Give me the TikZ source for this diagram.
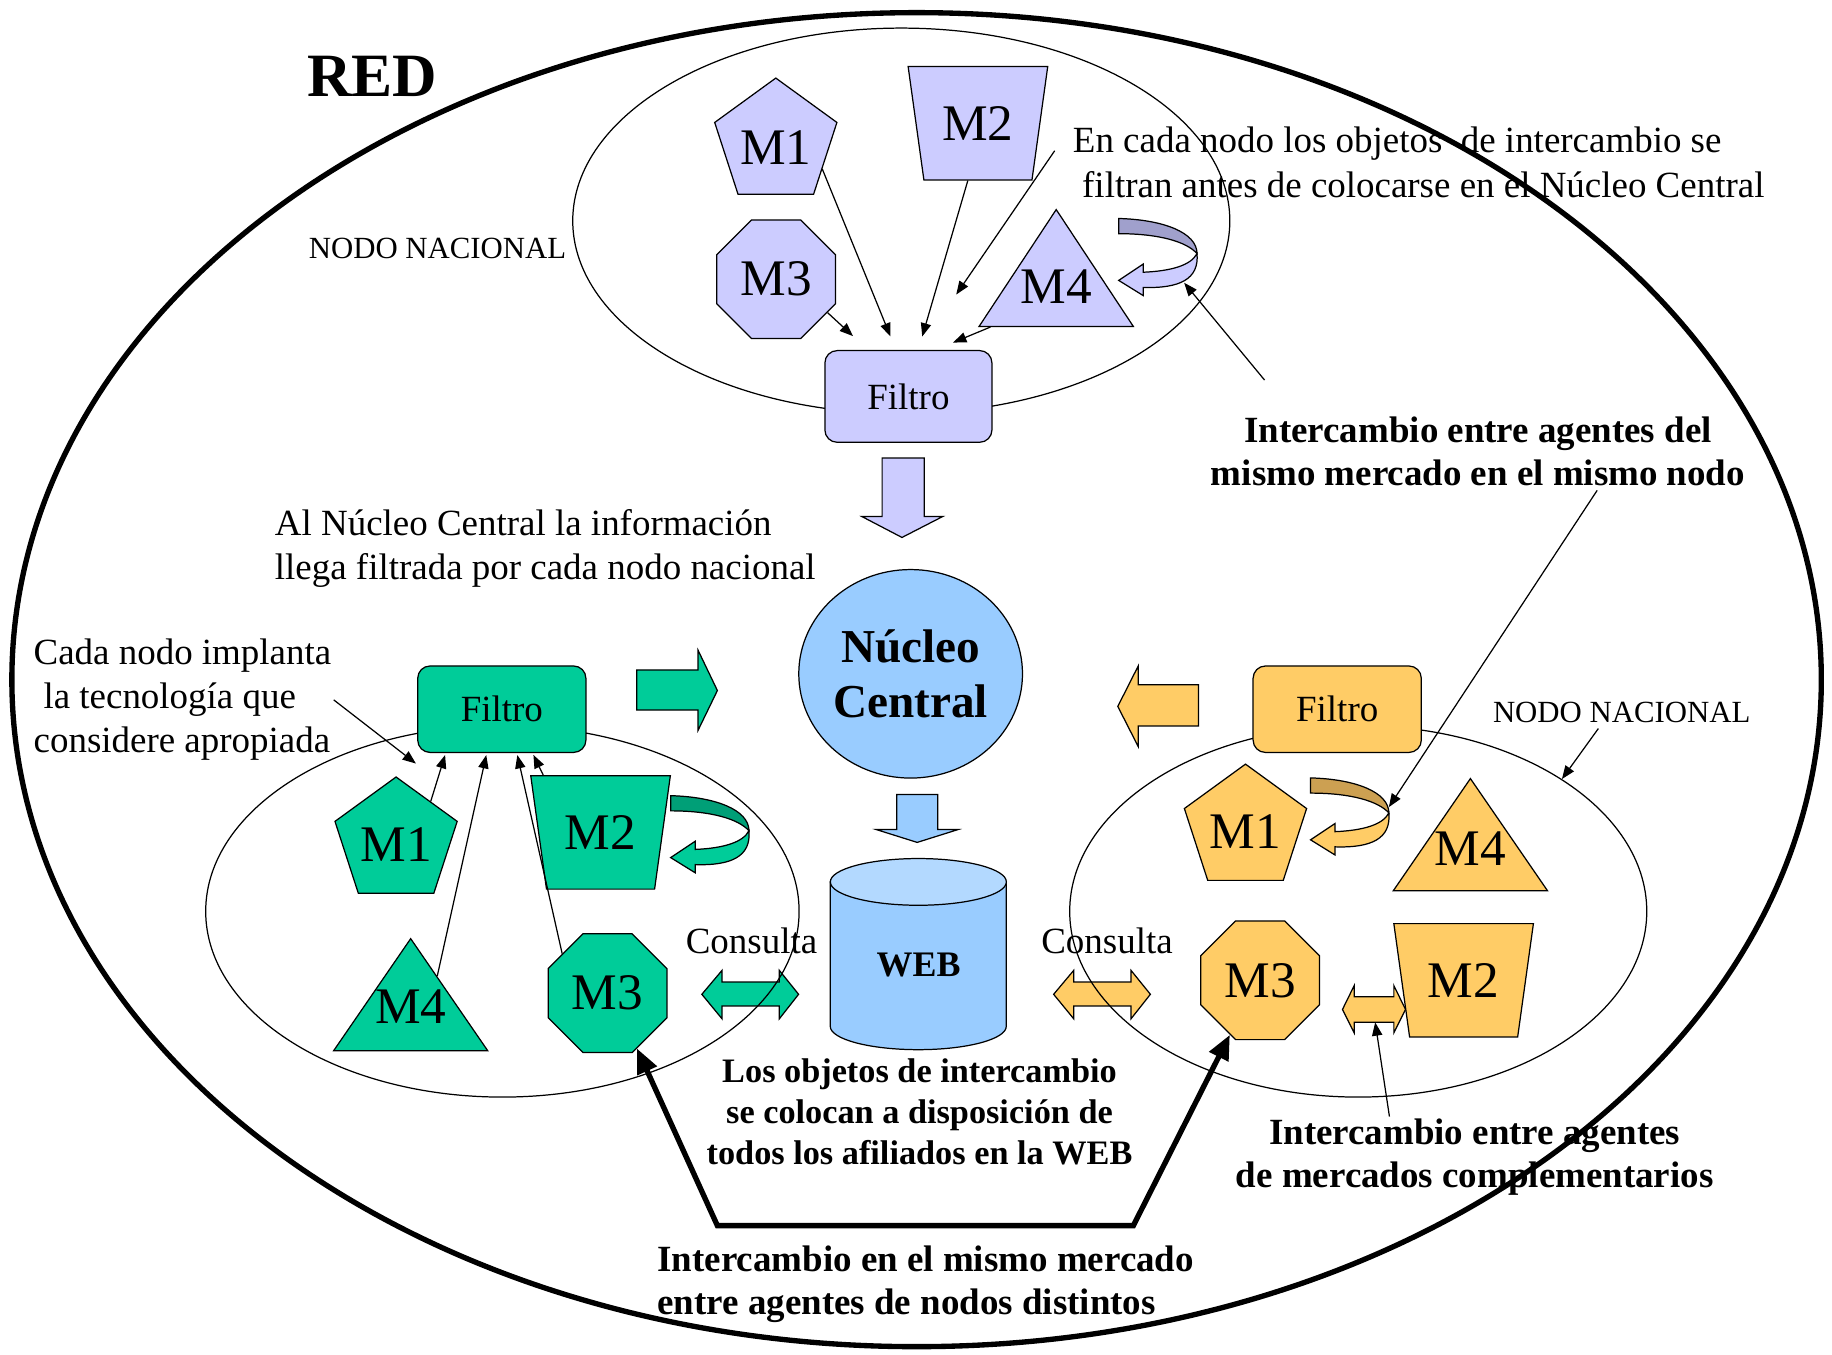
\documentclass[tikz,border=0pt]{standalone}
\usepackage{fontspec}
\setmainfont{Liberation Serif}
\usetikzlibrary{arrows.meta,shapes.geometric,calc}

\definecolor{lila}{HTML}{CCCCFF}
\definecolor{lilaosc}{HTML}{A0A0CC}
\definecolor{verde}{HTML}{00CC99}
\definecolor{verdeosc}{HTML}{009F77}
\definecolor{naranja}{HTML}{FFCC66}
\definecolor{naranjaosc}{HTML}{CCA052}
\definecolor{celeste}{HTML}{99CCFF}
\definecolor{celestecl}{HTML}{B3D9FF}

% curved arrow (ribbon): #1 name, #2 origin, #3 back colour, #4 front colour
\newcommand{\giro}[4]{%
  \begin{scope}[shift={#2}]
    \filldraw[fill=#3, line width=0.6pt] (0,0) .. controls (38,1) and (67,12) .. (67,30) .. controls (58,20) and (35,13) .. (0,13) -- cycle;
    \filldraw[fill=#4, line width=0.6pt] (67,30) .. controls (69,52) and (52,60) .. (21,59) -- (21,66) -- (0,53) -- (21,39) -- (21,46) .. controls (45,45) and (62,40) .. (67,30) -- cycle;
    \coordinate (#1-lado) at (67,25);
    \coordinate (#1-pie) at (56,55);
  \end{scope}}
% label raised inside a triangle / pentagon
\newcommand{\alto}[2]{\raisebox{#1}[0pt][0pt]{#2}}

\begin{document}
\begin{tikzpicture}[x=0.02cm, y=-0.02cm,
    forma/.style={draw, line width=0.6pt, inner sep=0pt, font=\fontsize{25}{30}\selectfont},
    pent/.style={forma, regular polygon, regular polygon sides=5, minimum size=2.2cm},
    octo/.style={forma, regular polygon, regular polygon sides=8, minimum size=2.2cm},
    trap/.style={forma, trapezium, trapezium stretches=true, trapezium angle=73, shape border rotate=180, minimum width=2.4cm, minimum height=1.94cm},
    tri/.style={forma, isosceles triangle, isosceles triangle stretches=true, shape border rotate=90, minimum width=2.64cm, minimum height=1.92cm, anchor=apex},
    filtro/.style={draw, line width=0.6pt, rounded corners=6pt, minimum width=2.88cm, minimum height=1.48cm, font=\fontsize{18}{21.5}\selectfont},
    nodo/.style={draw, line width=0.6pt, ellipse, inner sep=0pt},
    texto/.style={inner sep=1pt, font=\fontsize{18}{21.5}\selectfont},
    negrita/.style={inner sep=1pt, font=\bfseries\fontsize{18}{21}\selectfont},
    flecha/.style={-{Triangle[length=6.5pt,width=5pt]}, line width=0.6pt},
    gruesa/.style={{Triangle[length=12pt,width=10pt]}-{Triangle[length=12pt,width=10pt]}, line width=2.6pt},
    bloque/.style={line width=0.6pt}]

\useasboundingbox (0,0) rectangle (1568,1159.7);

% RED
\draw[line width=2.6pt] (784.5,581.7) ellipse [x radius=15.49cm, y radius=11.42cm];

\begin{scope} % block arrows
    \filldraw[fill=lila, bloque] (755,392) -- (791,392) -- (791,442) -- (807,442) -- (772,460) -- (737.5,442) -- (755,442) -- cycle;
    \filldraw[fill=verde, bloque] (545,573.4) -- (597.5,573.4) -- (597.5,556.6) -- (614,591) -- (597.5,625) -- (597.5,607.7) -- (545,607.7) -- cycle;
    \filldraw[fill=naranja, bloque] (1025.7,586) -- (974.2,586) -- (974.2,570) -- (956.7,604.6) -- (974.2,639) -- (974.2,621.3) -- (1025.7,621.3) -- cycle;
    \filldraw[fill=celeste, bloque] (767.5,680) -- (802.7,680) -- (802.7,710) -- (820,710) -- (785,721) -- (750,710) -- (767.5,710) -- cycle;
    % Consulta
    \filldraw[fill=verde, bloque] (600.7,851) -- (618,830.5) -- (618,840.5) -- (667,840.5) -- (667,830.5) -- (683.5,851) -- (667,872) -- (667,861) -- (618,861) -- (618,872) -- cycle;
    \filldraw[fill=naranja, bloque] (901.8,851) -- (919,830.5) -- (919,840.5) -- (968,840.5) -- (968,830.5) -- (984.6,851) -- (968,872) -- (968,861) -- (919,861) -- (919,872) -- cycle;
    \filldraw[fill=naranja, bloque] (1149,864) -- (1159,843.6) -- (1159,853) -- (1193,853) -- (1193,843.6) -- (1203,864) -- (1193,884) -- (1193,875) -- (1159,875) -- (1159,884) -- cycle;
    \coordinate (dobleD) at (1177,875);
\end{scope}

% national nodes
\node[nodo, minimum width=11.25cm, minimum height=6.6cm] (elipA) at (771.4,189) {};
\node[nodo, minimum width=10.16cm, minimum height=6.36cm] (elipB) at (430,780) {};
\node[nodo, minimum width=9.88cm, minimum height=6.36cm] (elipD) at (1162.5,780) {};

\begin{scope} % upper node
    \node[filtro, fill=lila, minimum width=2.86cm, minimum height=1.57cm] (filtroa) at (777.5,339.3) {Filtro};
    \node[pent, fill=lila] (m1a) at (664,121.8) {\alto{-11pt}{M1}};
    \node[trap, fill=lila] (m2a) at (837,105.5) {M2};
    \node[octo, fill=lila] (m3a) at (664.3,239) {M3};
    \node[tri, fill=lila, minimum height=2cm] (m4a) at (904,178) {\alto{0.5pt}{M4}};
    \giro{giroA}{(957.5,187)}{lilaosc}{lila}
\end{scope}

\begin{scope} % left node
    \node[filtro, fill=verde] (filtrob) at (429.5,607) {Filtro};
    \node[pent, fill=verde] (m1b) at (339,720) {\alto{-10pt}{M1}};
    \node[trap, fill=verde] (m2b) at (514,712.5) {M2};
    \node[octo, fill=verde] (m3b) at (520,850) {M3};
    \node[tri, fill=verde] (m4b) at (351.5,802) {\alto{2.8pt}{M4}};
    \giro{giroB}{(574,681)}{verdeosc}{verde}
\end{scope}

\begin{scope} % right node
    \node[filtro, fill=naranja] (filtrod) at (1144.5,607) {Filtro};
    \node[pent, fill=naranja] (m1d) at (1066,709) {\alto{-10pt}{M1}};
    \node[tri, fill=naranja] (m4d) at (1258.5,665) {\alto{1.6pt}{M4}};
    \node[octo, fill=naranja] (m3d) at (1078.5,839) {M3};
    \node[trap, fill=naranja] (m2d) at (1252.7,839) {M2};
    \giro{giroD}{(1121.7,665.8)}{naranjaosc}{naranja}
\end{scope}

% central core and WEB
\node[nodo, fill=celeste, minimum width=3.83cm, minimum height=3.57cm, align=center, font=\bfseries\fontsize{23}{27}\selectfont] (nucleo) at (779.4,576.7) {Núcleo\\Central};
\filldraw[fill=celeste, bloque] (710.6,754.8) -- (710.6,878.4) arc[start angle=180, end angle=360, x radius=1.507cm, y radius=0.4cm] -- (861.3,754.8) -- cycle;
\filldraw[fill=celestecl, bloque] (786,754.8) ellipse [x radius=1.507cm, y radius=0.4cm];
\node[font=\bfseries\fontsize{17.5}{21}\selectfont] (web) at (786.2,826.2) {WEB};

% texts
\node[negrita, font=\bfseries\fontsize{30}{36}\selectfont] (red) at (318.7,65) {RED};
\node[texto, align=left, anchor=west] (encada) at (916.2,139) {En cada nodo los objetos~~de intercambio se\\\hspace*{4.5pt}filtran antes de colocarse en el Núcleo Central};
\node[texto, font=\fontsize{15}{18}\selectfont] (nodoa) at (374.5,212.4) {NODO NACIONAL};
\node[negrita, align=center] (agentes) at (1265,386) {Intercambio entre agentes del\\mismo mercado en el mismo nodo};
\node[texto, align=left, anchor=west] (alnucleo) at (233.2,469.7) {Al Núcleo Central la información\\llega filtrada por cada nodo nacional};
\node[texto, align=left, anchor=west] (cada) at (26.7,599) {Cada nodo implanta\\\hspace*{4.8pt}la tecnología que\\considere apropiada};
\node[texto] (consb) at (643.2,805.5) {Consulta};
\node[texto] (consd) at (947.5,805.5) {Consulta};
\node[texto, font=\fontsize{15}{18}\selectfont] (nodod) at (1388,609.6) {NODO NACIONAL};
\node[negrita, align=center, font=\bfseries\fontsize{16.7}{20.1}\selectfont] (objetos) at (787,951.7) {Los objetos de intercambio\\se colocan a disposición de\\todos los afiliados en la WEB};
\node[negrita, align=left, anchor=west] (mismo) at (560.7,1099.5) {Intercambio en el mismo mercado\\entre agentes de nodos distintos};
\node[negrita, align=center] (compl) at (1262.2,990.5) {Intercambio entre agentes\\de mercados complementarios};

% upper node arrows
\draw[flecha, shorten >=0.25cm] (m1a.-30) -- (filtroa.105);
\draw[flecha, shorten >=0.35cm] (m3a.-33) -- (filtroa.131);
\draw[flecha, shorten >=0.24cm] (m2a.-100) -- (filtroa.78);
\draw[flecha, shorten >=0.33cm] ($(m4a.left corner)!0.08!(m4a.right corner)$) -- (filtroa.60);
\draw[flecha, shorten >=1.15cm] ([xshift=-0.27cm, yshift=0.2cm]encada.west) -- (filtroa.78);
\draw[flecha] ($(agentes.north west)+(48,-29)$) -- (giroA-pie);
\draw[flecha] ($(agentes.south)+(102,2)$) -- (giroD-lado);

% left node arrows
\draw[flecha, shorten >=1pt] (m1b.49) -- (filtrob.-142);
\draw[flecha, shorten >=1pt] ($(m4b.apex)!0.34!(m4b.right corner)$) -- (filtrob.-109);
\draw[flecha, shorten >=1pt] (m3b.139) -- (filtrob.-71);
\draw[flecha, shorten >=1pt] (m2b.135) -- (filtrob.-55);
\draw[flecha] (cada.east) -- ($(filtrob.south west)+(-1,9)$);

% right node arrows
\draw[flecha] ($(nodod.south)+(-20,3)$) -- (elipD.33);
\draw[flecha] ($(compl.north)+(-73,0)$) -- (dobleD);

% same market, different nodes
\coordinate (codoI) at (614,1049);
\coordinate (codoD) at (970,1049);
\draw[gruesa] (m3b.-62) -- (codoI) -- (codoD) -- (m3d.-119);

\end{tikzpicture}
\end{document}
